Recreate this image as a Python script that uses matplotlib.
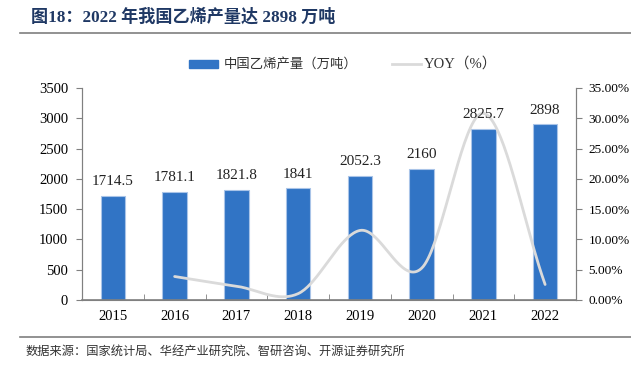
import numpy as np
import matplotlib
matplotlib.use("Agg")
import matplotlib.pyplot as plt
from matplotlib.patches import Rectangle
from matplotlib.lines import Line2D

years = ["2015", "2016", "2017", "2018", "2019", "2020", "2021", "2022"]
output = [1714.5, 1781.1, 1821.8, 1841, 2052.3, 2160, 2825.7, 2898]
yoy_years = ["2016", "2017", "2018", "2019", "2020", "2021", "2022"]
yoy = [3.88, 2.28, 1.05, 11.48, 5.25, 30.82, 2.56]
left_ticks = [0, 500, 1000, 1500, 2000, 2500, 3000, 3500]
right_ticks = [0, 5, 10, 15, 20, 25, 30, 35]

SERIF = ['Liberation Serif', 'Noto Sans CJK SC']
CJK = ['Noto Sans CJK SC', 'DejaVu Sans']
BLUE = '#3174C5'
GRAY_LINE = '#DADADA'
AX_GRAY = '#808080'

W, H = 631, 366
fig = plt.figure(figsize=(W/100, H/100), dpi=100)

def fx(px): return px / W
def fy(py): return 1 - py / H

ax = fig.add_axes([fx(82), fy(300), fx(576) - fx(82), fy(88) - fy(300)])
x = np.arange(len(years))
ax.bar(x, output, width=0.4, color=BLUE, edgecolor='#A9C4E8', linewidth=0.8, zorder=2)
ax.set_xlim(-0.5, len(years) - 0.5)
ax.set_ylim(0, 3500)
ax.set_yticks(left_ticks)
ax.set_yticklabels([str(v) for v in left_ticks], family=SERIF, fontsize=10.5)
ax.set_xticks(x)
ax.set_xticklabels(years, family=SERIF, fontsize=10.5)
ax.tick_params(axis='x', length=0, pad=7)
ax.set_xticks(np.arange(len(years) + 1) - 0.5, minor=True)
ax.tick_params(axis='x', which='minor', direction='in', length=4, color=AX_GRAY)
ax.tick_params(axis='y', direction='out', length=4, color=AX_GRAY, pad=6)
ax.spines['top'].set_visible(False)
for s in ['left', 'right', 'bottom']:
    ax.spines[s].set_color(AX_GRAY)
ax.spines['bottom'].set_linewidth(1.2)

ax2 = ax.twinx()
ax2.set_ylim(0, 35)
ax2.set_yticks(right_ticks)
ax2.set_yticklabels([f"{v:.2f}%" for v in right_ticks], family=SERIF, fontsize=9.6)
ax2.tick_params(axis='y', direction='out', length=4, color=AX_GRAY, pad=5)
ax2.spines['top'].set_visible(False)
for s in ['left', 'right', 'bottom']:
    ax2.spines[s].set_color(AX_GRAY)

# smoothed line (Catmull-Rom through the data points)
px = np.array([years.index(y) for y in yoy_years], dtype=float)
py = np.array(yoy, dtype=float)
P = np.column_stack([px, py])
Pp = np.vstack([2*P[0]-P[1], P, 2*P[-1]-P[-2]])
sx, sy = [], []
for i in range(1, len(Pp) - 2):
    p0, p1, p2, p3 = Pp[i-1], Pp[i], Pp[i+1], Pp[i+2]
    t = np.linspace(0, 1, 40)[:, None]
    c = 0.5 * ((2*p1) + (-p0 + p2)*t + (2*p0 - 5*p1 + 4*p2 - p3)*t**2 + (-p0 + 3*p1 - 3*p2 + p3)*t**3)
    sx.extend(c[:, 0]); sy.extend(c[:, 1])
ax2.plot(sx, sy, color=GRAY_LINE, linewidth=2.0, solid_capstyle='round', zorder=3)

# data labels on top of everything
for xi, v in zip(x, output):
    ax2.text(xi, v + 130, f"{v:g}", transform=ax.transData, ha='center', va='bottom',
             family=SERIF, fontsize=11, color='#222222', zorder=5)

# legend
fig.patches.append(Rectangle((fx(189), fy(68)), fx(29), fy(60) - fy(68), transform=fig.transFigure, color=BLUE))
fig.text(fx(224), fy(64), "中国乙烯产量（万吨）", family=CJK, fontsize=9.6, va='center', ha='left', color='#333333')
fig.lines.append(Line2D([fx(392), fx(421)], [fy(64), fy(64)], transform=fig.transFigure, color=GRAY_LINE, linewidth=2))
fig.text(fx(424), fy(64), "YOY（%）", family=SERIF, fontsize=10.5, va='center', ha='left', color='#333333')

# title
fig.text(fx(31), fy(17), "图18：2022 年我国乙烯产量达 2898 万吨", family=SERIF, fontsize=12.3,
         fontweight='bold', color='#1F3864', va='center', ha='left')
fig.lines.append(Line2D([fx(20), fx(631)], [fy(33), fy(33)], transform=fig.transFigure, color='#7F7F7F', linewidth=1.2))

# footer
fig.lines.append(Line2D([fx(20), fx(631)], [fy(337), fy(337)], transform=fig.transFigure, color='#7F7F7F', linewidth=1.2))
fig.text(fx(26), fy(351), "数据来源：国家统计局、华经产业研究院、智研咨询、开源证券研究所", family=CJK, fontsize=8.8,
         color='#333333', va='center', ha='left')

fig.savefig("out.png", dpi=100)
